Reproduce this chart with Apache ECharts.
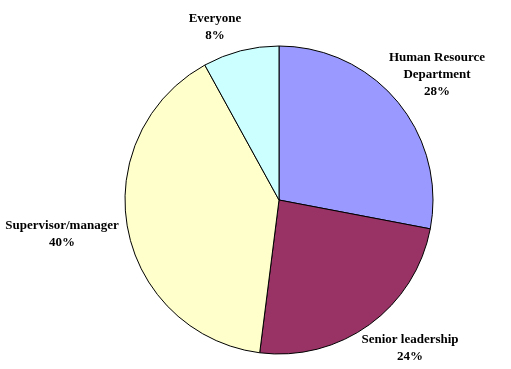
<!DOCTYPE html>
<html><head><meta charset="utf-8">
<script src="https://cdn.jsdelivr.net/npm/echarts@6/dist/echarts.min.js"></script>
<style>html,body{margin:0;padding:0;background:#fff}#c{width:511px;height:369px}</style>
</head><body><div id="c"></div>
<script>
const categories = ['Human Resource\nDepartment', 'Senior leadership', 'Supervisor/manager', 'Everyone'];
const values = [28, 24, 40, 8];
const colors = ['#9999FF', '#993366', '#FFFFCC', '#CCFFFF'];
const labelPos = [[437, 75], [410, 348], [62, 234], [215, 27]];

const chart = echarts.init(document.getElementById('c'), null, {renderer: 'canvas'});
chart.setOption({
  animation: false,
  series: [{
    type: 'pie',
    center: [279, 200],
    radius: 154,
    startAngle: 90,
    clockwise: true,
    avoidLabelOverlap: false,
    data: categories.map((n, i) => ({name: n, value: values[i], itemStyle: {color: colors[i]}})),
    itemStyle: {borderColor: '#000', borderWidth: 1},
    label: {
      show: true, position: 'outside',
      formatter: p => p.name + '\n' + p.value + '%',
      fontFamily: '"Liberation Serif", "Times New Roman", serif',
      fontWeight: 'bold', fontSize: 13, lineHeight: 17, color: '#000', align: 'center'
    },
    labelLine: {show: false},
    labelLayout: p => ({x: labelPos[p.dataIndex][0], y: labelPos[p.dataIndex][1], align: 'center', verticalAlign: 'middle'})
  }]
});
</script></body></html>
